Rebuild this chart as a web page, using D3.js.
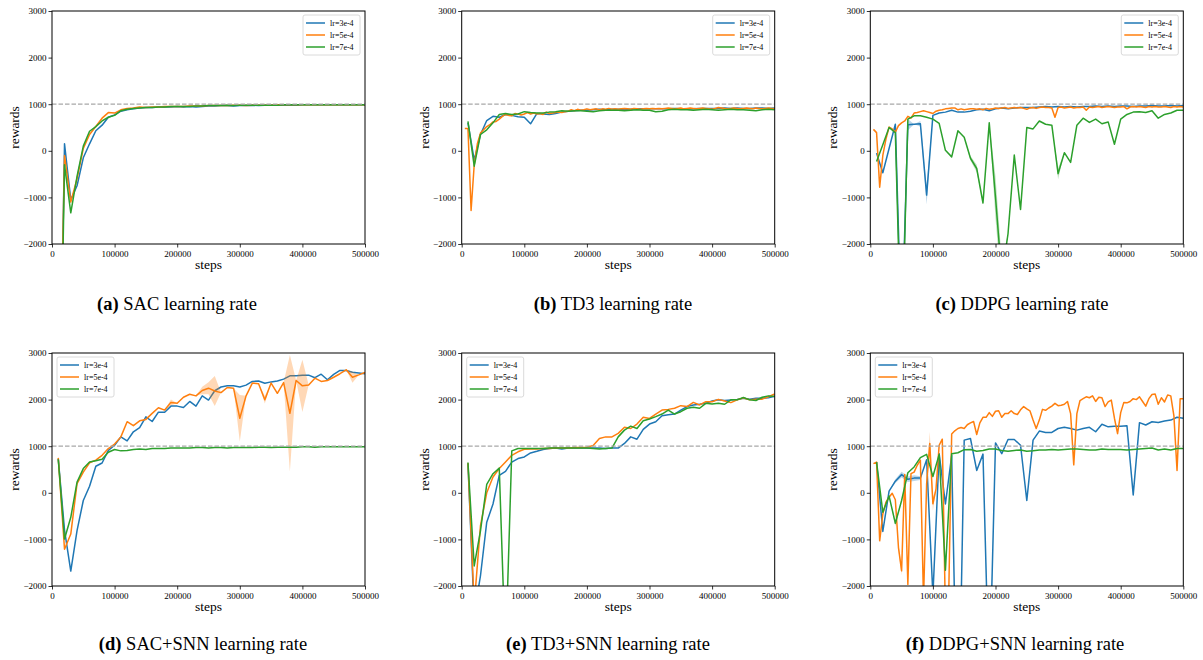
<!DOCTYPE html>
<html>
<head>
<meta charset="utf-8">
<script src="https://cdn.jsdelivr.net/npm/d3@7/dist/d3.min.js"></script>
<style>
  body { margin: 0; background: #fff; }
  svg { display: block; }
  text { font-family: "Liberation Serif", "Times New Roman", serif; fill: #000; }
</style>
</head>
<body>
<div id="chart"></div>
<script>
'use strict';

// x positions of the logged evaluations
let steps10 = d3.range(10000, 500001, 10000);
let steps5 = d3.range(5000, 500001, 5000);

let xTicks = [0, 100000, 200000, 300000, 400000, 500000];
let yTicks = [-2000, -1000, 0, 1000, 2000, 3000];
let legendLabels = ['lr=3e-4', 'lr=5e-4', 'lr=7e-4'];
let colors = ['#1f77b4', '#ff7f0e', '#2ca02c'];
let captions = [
    ['(a)', ' SAC learning rate'],
    ['(b)', ' TD3 learning rate'],
    ['(c)', ' DDPG learning rate'],
    ['(d)', ' SAC+SNN learning rate'],
    ['(e)', ' TD3+SNN learning rate'],
    ['(f)', ' DDPG+SNN learning rate']
];

// (a) SAC
let sacBlue = [-8000, 150, -1050, -750, -150, 150, 430, 550, 720, 770,
    850, 880, 900, 920, 930, 930, 940, 940, 940, 950,
    940, 950, 940, 950, 960, 960, 970, 970, 960, 970,
    970, 980, 970, 980, 980, 980, 980, 980, 980, 990,
    990, 990, 990, 990, 990, 990, 990, 990, 990, 990];
let sacOrange = [-7000, -100, -1100, -600, 50, 350, 520, 700, 820, 810,
    880, 910, 920, 940, 930, 940, 940, 950, 950, 950,
    950, 960, 960, 960, 970, 970, 970, 970, 980, 980,
    970, 980, 980, 980, 980, 990, 990, 990, 990, 990,
    990, 990, 990, 990, 990, 990, 990, 990, 990, 990];
let sacGreen = [-8000, -300, -1330, -550, 100, 420, 520, 640, 720, 760,
    860, 890, 910, 920, 930, 930, 940, 940, 950, 950,
    950, 950, 960, 960, 970, 970, 970, 980, 970, 980,
    980, 980, 980, 980, 980, 980, 990, 990, 990, 990,
    990, 990, 990, 990, 990, 990, 990, 990, 990, 990];

// (b) TD3
let td3Blue = [600, -200, 350, 650, 740, 720, 780, 760, 730, 720,
    580, 800, 790, 780, 800, 830, 850, 860, 870, 870,
    880, 890, 880, 890, 890, 890, 890, 900, 900, 900,
    900, 900, 900, 910, 900, 890, 900, 910, 910, 910,
    910, 920, 910, 920, 910, 910, 920, 920, 910, 920];
let td3Orange = [480, 480, -1280, -300, 150, 380, 450, 520, 560, 620,
    630, 680, 740, 780, 760, 750, 800, 790, 770, 790,
    820, 790, 810, 790, 800, 780, 830, 800, 810, 820,
    830, 820, 840, 850, 880, 860, 890, 870, 880, 900,
    880, 890, 900, 880, 900, 890, 910, 890, 900, 890,
    900, 910, 900, 890, 910, 900, 890, 900, 910, 900,
    910, 900, 910, 900, 910, 920, 910, 900, 910, 920,
    900, 910, 920, 910, 900, 910, 920, 910, 900, 890,
    910, 930, 920, 910, 900, 910, 920, 910, 900, 910,
    920, 910, 900, 920, 910, 900, 910, 920, 910, 900];
let td3Green = [630, -330, 350, 450, 600, 780, 800, 780, 790, 840,
    820, 810, 810, 830, 840, 860, 850, 860, 860, 850,
    840, 860, 870, 870, 870, 860, 870, 880, 870, 870,
    840, 850, 880, 890, 880, 880, 870, 880, 890, 880,
    870, 880, 890, 880, 880, 870, 860, 880, 890, 880];

// (c) DDPG
let ddpgBlue = [-50, -470, 50, 570, -4000, 560, 570, 580, -950, 760,
    810, 830, 870, 830, 830, 850, 880, 890, 860, 900,
    920, 900, 920, 930, 930, 930, 940, 950, 940, 950,
    940, 950, 940, 950, 950, 960, 950, 960, 950, 960,
    960, 950, 960, 960, 970, 960, 960, 970, 960, 970];
let ddpgOrange = [460, 390, -780, -100, 250, 510, 470, 400, 540, 600,
    640, 740, 700, 810, 820, 840, 860, 840, 820, 800,
    850, 870, 880, 900, 910, 920, 920, 880, 900, 880,
    890, 900, 900, 890, 900, 880, 910, 890, 900, 920,
    910, 920, 930, 910, 920, 930, 920, 930, 910, 890,
    920, 930, 910, 930, 940, 930, 930, 920, 720, 930,
    940, 920, 930, 940, 920, 930, 930, 940, 870, 940,
    930, 940, 950, 930, 940, 950, 940, 930, 940, 940,
    950, 900, 940, 950, 940, 950, 940, 930, 950, 940,
    950, 940, 940, 950, 940, 930, 950, 940, 950, 940];
let ddpgGreen = [-230, 130, 500, 390, -4500, 680, 750, 750, 720, 680,
    590, 10, -130, 430, 290, -160, -380, -1120, 600, -1000,
    -2700, -1780, -90, -1260, 500, 470, 640, 570, 550, -490,
    -40, -250, 550, 700, 610, 680, 580, 620, 140, 680,
    780, 830, 840, 820, 860, 700, 780, 810, 870, 870];

// (d) SAC+SNN
let sacSnnBlue = [730, -800, -1680, -810, -165, 140, 570, 640, 910, 1020,
    1200, 1115, 1310, 1400, 1630, 1530, 1730, 1730, 1860, 1860,
    1830, 1960, 1860, 2080, 1990, 2190, 2270, 2295, 2295, 2270,
    2310, 2390, 2400, 2350, 2380, 2400, 2440, 2510, 2510, 2525,
    2525, 2470, 2545, 2425, 2540, 2625, 2625, 2585, 2570, 2555];
let sacSnnOrange = [750, -1210, -885, 195, 445, 645, 700, 805, 950, 1045,
    1200, 1525, 1440, 1545, 1575, 1705, 1825, 1775, 1940, 1920,
    2050, 2115, 2080, 2195, 2245, 2185, 2150, 2260, 2245, 1600,
    2080, 2355, 2340, 1995, 2355, 2135, 2365, 1705, 2410, 2295,
    2315, 2460, 2390, 2410, 2480, 2555, 2640, 2480, 2530, 2585];
let sacSnnGreen = [720, -990, -525, 230, 520, 660, 690, 720, 870, 930,
    900, 910, 930, 940, 930, 950, 950, 950, 960, 960,
    960, 960, 970, 970, 960, 970, 970, 960, 970, 970,
    970, 970, 980, 980, 970, 980, 980, 980, 980, 990,
    990, 980, 990, 990, 990, 990, 990, 990, 990, 990];

// (e) TD3+SNN
let td3SnnBlue = [620, -2600, -1780, -630, -240, 375, 460, 660, 735, 770,
    855, 890, 930, 950, 960, 940, 960, 960, 960, 960,
    960, 960, 950, 960, 960, 1060, 1200, 1150, 1360, 1475,
    1525, 1655, 1675, 1690, 1775, 1850, 1885, 1900, 1920, 1970,
    1995, 1980, 1990, 2000, 2030, 2010, 2030, 2030, 2040, 2070];
let td3SnnOrange = [640, -2400, -705, 0, 340, 520, 660, 805, 880, 935,
    940, 940, 950, 950, 960, 960, 960, 970, 970, 980,
    1015, 1165, 1200, 1200, 1275, 1405, 1380, 1475, 1620, 1595,
    1690, 1775, 1790, 1815, 1870, 1850, 1940, 1885, 1955, 1955,
    2005, 1970, 1935, 1995, 2035, 1995, 2005, 2010, 2060, 2120];
let td3SnnGreen = [650, -1570, -815, 180, 410, 530, -3500, 900, 950, 950,
    950, 950, 950, 960, 960, 960, 960, 960, 960, 960,
    950, 940, 950, 960, 1200, 1345, 1430, 1380, 1545, 1585,
    1635, 1690, 1775, 1690, 1740, 1815, 1835, 1815, 1920, 1905,
    1920, 1900, 1995, 1995, 2045, 1995, 1980, 2050, 2080, 2065];

// (f) DDPG+SNN
let ddpgSnnBlue = [660, -830, 35, 250, 390, 290, 315, 315, 710, -2200,
    840, -240, 800, -6000, 1130, 1165, 480, 830, -4200, 1070,
    840, 1145, 1145, 1020, -165, 1130, 1325, 1295, 1295, 1380,
    1405, 1380, 1345, 1380, 1405, 1310, 1470, 1415, 1430, 1430,
    1440, -45, 1505, 1455, 1525, 1510, 1540, 1560, 1620, 1600];
let ddpgSnnOrange = [625, 660, -1030, -455, -200, -95, -10, -150, -1175, -1675,
    395, -1965, 410, 445, 590, 700, -2300, 195, 1060, -235,
    85, 1020, 1150, -2600, -2400, 1260, 1330, 1380, 1400, 1380,
    1460, 1500, 1530, 1250, 1500, 1620, 1620, 1720, 1640, 1750,
    1760, 1620, 1700, 1700, 1760, 1700, 1680, 1780, 1850, 1800,
    1760, 1560, 1380, 1560, 1790, 1770, 1820, 1860, 1920, 1870,
    1880, 1900, 1960, 1700, 600, 1700, 1980, 2020, 2060, 2040,
    2080, 1960, 2050, 2040, 1850, 1950, 1990, 1600, 1270, 1720,
    1940, 1930, 1960, 2020, 2000, 2060, 1960, 1860, 2020, 2110,
    2120, 1900, 2040, 1950, 2100, 2080, 1650, 480, 2020, 2020];
let ddpgSnnGreen = [660, -415, -70, -655, -165, 430, 555, 755, 825, 350,
    825, -1660, 840, 860, 925, 930, 890, 910, 940, 940,
    910, 890, 910, 920, 890, 900, 920, 920, 930, 920,
    930, 940, 940, 930, 920, 920, 940, 930, 930, 930,
    920, 930, 940, 950, 960, 920, 940, 920, 950, 950];

// half width of the shaded spread, only where it is visible (step -> reward)
let ddpgBlueSpread = {60000: 120, 80000: 60, 90000: 200};
let ddpgGreenSpread = {160000: 50, 170000: 80, 200000: 450, 210000: 350, 300000: 120};
let sacSnnOrangeSpread = {190000: 60, 240000: 80, 250000: 130, 260000: 320, 300000: 500,
    340000: 80, 380000: 1250, 400000: 560, 480000: 120};
let ddpgSnnBlueSpread = {40000: 40, 50000: 60, 60000: 60, 70000: 60, 80000: 40, 190000: 300};
let ddpgSnnOrangeSpread = {45000: 60, 50000: 100, 90000: 80, 95000: 250, 100000: 150};
let ddpgSnnGreenSpread = {40000: 60};

let panels = [
    {series: [[steps10, sacBlue], [steps10, sacOrange], [steps10, sacGreen]], legend: 'right'},
    {series: [[steps10, td3Blue], [steps5, td3Orange], [steps10, td3Green]], legend: 'right'},
    {series: [[steps10, ddpgBlue, ddpgBlueSpread], [steps5, ddpgOrange], [steps10, ddpgGreen, ddpgGreenSpread]], legend: 'right'},
    {series: [[steps10, sacSnnBlue], [steps10, sacSnnOrange, sacSnnOrangeSpread], [steps10, sacSnnGreen]], legend: 'left'},
    {series: [[steps10, td3SnnBlue], [steps10, td3SnnOrange], [steps10, td3SnnGreen]], legend: 'left'},
    {series: [[steps10, ddpgSnnBlue, ddpgSnnBlueSpread], [steps5, ddpgSnnOrange, ddpgSnnOrangeSpread], [steps10, ddpgSnnGreen, ddpgSnnGreenSpread]], legend: 'left'}
];

let W = 1203, H = 660;
let plotW = 313, plotH = 233;
let lefts = [52, 461.7, 870.3];
let tops = [11, 353];
let captionX = [177, 613, 1022, 203, 608, 1015];
let captionY = [310, 650];

let svg = d3.select('#chart').append('svg')
    .attr('width', W)
    .attr('height', H);

svg.append('defs').append('clipPath')
    .attr('id', 'plot-clip')
    .append('rect')
    .attr('width', plotW)
    .attr('height', plotH);

panels.forEach(function (panel, i) {
    drawPanel(panel, i);
});

function drawPanel(panel, i) {
    let col = i % 3, row = Math.floor(i / 3);
    let g = svg.append('g')
        .attr('transform', 'translate(' + lefts[col] + ',' + tops[row] + ')');

    let x = d3.scaleLinear().domain([0, 500000]).range([0, plotW]);
    let y = d3.scaleLinear().domain([-2000, 3000]).range([plotH, 0]);

    let plot = g.append('g').attr('clip-path', 'url(#plot-clip)');

    panel.series.forEach(function (s, k) {
        let xs = s[0], vals = s[1], spread = s[2] || {};
        let pts = vals.map(function (v, j) {
            return {step: xs[j], v: v, sd: spread[xs[j]] || 0};
        });
        plot.append('path')
            .datum(pts)
            .attr('fill', colors[k])
            .attr('fill-opacity', 0.3)
            .attr('stroke', 'none')
            .attr('d', d3.area()
                .x(function (d) { return x(d.step); })
                .y0(function (d) { return y(d.v - d.sd); })
                .y1(function (d) { return y(d.v + d.sd); }));
        plot.append('path')
            .datum(pts)
            .attr('fill', 'none')
            .attr('stroke', colors[k])
            .attr('stroke-width', 1.5)
            .attr('stroke-linejoin', 'round')
            .attr('d', d3.line()
                .x(function (d) { return x(d.step); })
                .y(function (d) { return y(d.v); }));
    });

    // reference level
    plot.append('line')
        .attr('x1', 0).attr('x2', plotW)
        .attr('y1', y(1000)).attr('y2', y(1000))
        .attr('stroke', '#a8a8a8')
        .attr('stroke-width', 1.2)
        .attr('stroke-dasharray', '4.5,2');

    let fmt = d3.format('d');
    let xAxis = g.append('g')
        .attr('transform', 'translate(0,' + plotH + ')')
        .call(d3.axisBottom(x).tickValues(xTicks).tickFormat(fmt).tickSize(3.5).tickPadding(3));
    let yAxis = g.append('g')
        .call(d3.axisLeft(y).tickValues(yTicks).tickFormat(fmt).tickSize(3.5).tickPadding(2));
    [xAxis, yAxis].forEach(function (a) {
        a.select('.domain').remove();
        a.selectAll('line').attr('stroke', '#000').attr('stroke-width', 0.8);
        a.selectAll('text')
            .style('font-family', '"Liberation Serif", serif')
            .style('font-size', '9px')
            .attr('fill', '#000');
    });

    g.append('rect')
        .attr('width', plotW)
        .attr('height', plotH)
        .attr('fill', 'none')
        .attr('stroke', '#000')
        .attr('stroke-width', 1);

    g.append('text')
        .attr('x', plotW / 2)
        .attr('y', plotH + 25)
        .attr('text-anchor', 'middle')
        .style('font-size', '13.5px')
        .text('steps');
    g.append('text')
        .attr('transform', 'translate(-33,' + (plotH / 2) + ') rotate(-90)')
        .attr('text-anchor', 'middle')
        .style('font-size', '13.5px')
        .text('rewards');

    // legend
    let lx = panel.legend === 'right' ? plotW - 62 : 5;
    let lg = g.append('g').attr('transform', 'translate(' + lx + ',4)');
    lg.append('rect')
        .attr('width', 57)
        .attr('height', 40)
        .attr('rx', 2)
        .attr('fill', '#fff')
        .attr('fill-opacity', 0.8)
        .attr('stroke', '#d0d0d0')
        .attr('stroke-width', 0.8);
    legendLabels.forEach(function (label, k) {
        let ly = 8 + k * 12;
        lg.append('line')
            .attr('x1', 3).attr('x2', 22)
            .attr('y1', ly).attr('y2', ly)
            .attr('stroke', colors[k])
            .attr('stroke-width', 1.5);
        lg.append('text')
            .attr('x', 27)
            .attr('y', ly + 3)
            .style('font-size', '8px')
            .text(label);
    });

    let cap = svg.append('text')
        .attr('x', captionX[i])
        .attr('y', captionY[row])
        .attr('text-anchor', 'middle')
        .style('font-size', '18.5px');
    cap.append('tspan').attr('font-weight', 'bold').text(captions[i][0]);
    cap.append('tspan').text(captions[i][1]);
}
</script>
</body>
</html>
